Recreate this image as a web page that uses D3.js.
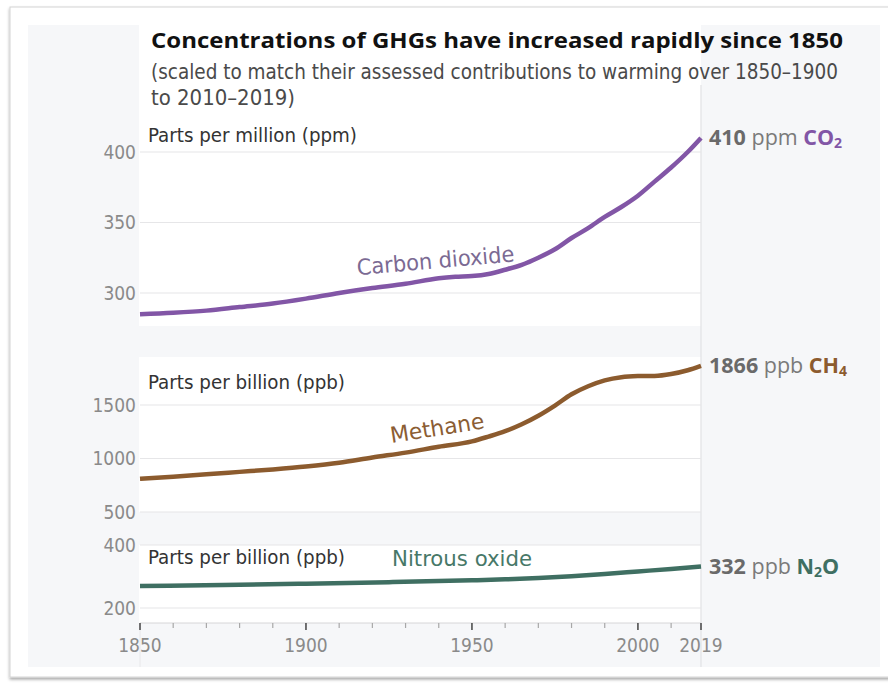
<!DOCTYPE html>
<html>
<head>
<meta charset="utf-8">
<script src="https://cdn.jsdelivr.net/npm/d3@7"></script>
<style>
  body { margin: 0; background: #fff; }
  svg { display: block; }
</style>
</head>
<body>
<div id="chart"></div>
<script>
// values
const co2Years = [1850, 1860, 1870, 1880, 1890, 1900, 1910, 1920, 1930, 1940, 1945, 1950, 1955, 1960, 1965, 1970, 1975, 1980, 1985, 1990, 1995, 2000, 2005, 2010, 2015, 2019];
const co2Values = [285, 286, 287.5, 290, 292.5, 296, 300, 303.5, 306.5, 310.5, 311.5, 312, 313.5, 316.5, 320, 325, 331, 339, 346, 354, 361, 369, 379, 389, 400, 410];

const ch4Years = [1850, 1860, 1870, 1880, 1890, 1900, 1910, 1920, 1930, 1940, 1950, 1955, 1960, 1965, 1970, 1975, 1980, 1985, 1990, 1995, 2000, 2005, 2010, 2015, 2019];
const ch4Values = [810, 830, 852, 875, 898, 925, 960, 1010, 1055, 1110, 1160, 1205, 1255, 1320, 1400, 1495, 1600, 1675, 1730, 1760, 1770, 1772, 1790, 1825, 1866];

const n2oYears = [1850, 1875, 1900, 1925, 1950, 1960, 1970, 1980, 1990, 2000, 2010, 2019];
const n2oValues = [270, 273, 277, 282, 288, 291, 295, 301, 308, 316, 324, 332];

const co2Ticks = [300, 350, 400];
const ch4Ticks = [500, 1000, 1500];
const n2oTicks = [200, 400];
const xTickYears = [1850, 1900, 1950, 2000, 2019];
const xMinorYears = [1860, 1870, 1880, 1890, 1910, 1920, 1930, 1940, 1960, 1970, 1980, 1990, 2010];

const COLORS = {
  co2: "#8256a6",
  co2Label: "#7b6a93",
  ch4: "#8c5b2e",
  ch4Label: "#8b5d33",
  n2o: "#3f6f62",
  n2oLabel: "#477868",
  panelBg: "#f6f7f9",
  grid: "#e6e6e8",
  tickText: "#8a8a8a",
  unitText: "#333",
};

const SANS = '"Open Sans", "Noto Sans", sans-serif';
const NARROW = '"Liberation Sans Narrow", "DejaVu Sans Condensed", "Open Sans", sans-serif';

const x = d3.scaleLinear().domain([1850, 2019]).range([140, 701]);

const panels = [
  {
    key: "co2", years: co2Years, values: co2Values, ticks: co2Ticks,
    y: d3.scaleLinear().domain([300, 400]).range([293, 152]),
    color: COLORS.co2, unit: "ppm", formula: ["CO", "2"],
    unitLabel: "Parts per million (ppm)", unitY: 142, unitLen: 209,
    name: "Carbon dioxide", nameColor: COLORS.co2Label,
    nameAt: [1939, 323], nameAngle: -5, nameLen: 158,
  },
  {
    key: "ch4", years: ch4Years, values: ch4Values, ticks: ch4Ticks,
    y: d3.scaleLinear().domain([500, 1500]).range([512, 405]),
    color: COLORS.ch4, unit: "ppb", formula: ["CH", "4"],
    unitLabel: "Parts per billion (ppb)", unitY: 389, unitLen: 197,
    name: "Methane", nameColor: COLORS.ch4Label,
    nameAt: [1939.5, 1285], nameAngle: -9, nameLen: 95,
  },
  {
    key: "n2o", years: n2oYears, values: n2oValues, ticks: n2oTicks,
    y: d3.scaleLinear().domain([200, 400]).range([608, 545]),
    color: COLORS.n2o, unit: "ppb", formula: ["N", "2", "O"],
    unitLabel: "Parts per billion (ppb)", unitY: 564, unitLen: 197,
    name: "Nitrous oxide", nameColor: COLORS.n2oLabel,
    nameAt: [1947, 358], nameAngle: 0, nameLen: 140,
  },
];

const svg = d3
  .select("#chart")
  .append("svg")
  .attr("width", 888)
  .attr("height", 684);

const defs = svg.append("defs");
defs
  .append("filter")
  .attr("id", "shadow")
  .attr("x", "-5%").attr("y", "-5%")
  .attr("width", "110%").attr("height", "110%")
  .append("feDropShadow")
  .attr("dx", 0).attr("dy", 2)
  .attr("stdDeviation", 1.6)
  .attr("flood-color", "#000")
  .attr("flood-opacity", 0.35);

// card + backgrounds
svg.append("rect")
  .attr("x", 10).attr("y", 7).attr("width", 880).attr("height", 670)
  .attr("fill", "#fff").attr("stroke", "#d4d4d4")
  .attr("filter", "url(#shadow)");

svg.append("rect")
  .attr("x", 28).attr("y", 25).attr("width", 852).attr("height", 642)
  .attr("fill", COLORS.panelBg);

// white plot column: title + CO2, CH4, N2O
const whiteBlocks = [[25, 326], [357, 512], [545, 623]];
svg.selectAll("rect.block")
  .data(whiteBlocks)
  .join("rect")
  .attr("class", "block")
  .attr("x", 139)
  .attr("width", 562)
  .attr("y", (d) => d[0])
  .attr("height", (d) => d[1] - d[0])
  .attr("fill", "#fff");

// vertical separator at 2019 and light extensions below the axis
svg.append("line")
  .attr("x1", x(2019)).attr("x2", x(2019))
  .attr("y1", 85).attr("y2", 667)
  .attr("stroke", "#e2e2e5").attr("stroke-width", 1.2);
svg.append("line")
  .attr("x1", x(1850)).attr("x2", x(1850))
  .attr("y1", 623).attr("y2", 667)
  .attr("stroke", "#e8e8ea");

// title
svg.append("text")
  .attr("x", 151).attr("y", 48)
  .attr("font-family", SANS).attr("font-weight", 700)
  .attr("font-size", 22).attr("fill", "#111")
  .attr("textLength", 692).attr("lengthAdjust", "spacingAndGlyphs")
  .text("Concentrations of GHGs have increased rapidly since 1850");

const subtitle = [
  ["(scaled to match their assessed contributions to warming over 1850\u20131900", 79, 687],
  ["to 2010\u20132019)", 105, 144],
];
svg.selectAll("text.sub")
  .data(subtitle)
  .join("text")
  .attr("class", "sub")
  .attr("x", 151)
  .attr("y", (d) => d[1])
  .attr("font-family", NARROW)
  .attr("font-size", 21)
  .attr("fill", "#4a4a4a")
  .attr("textLength", (d) => d[2])
  .attr("lengthAdjust", "spacingAndGlyphs")
  .text((d) => d[0]);

const line = d3.line().curve(d3.curveMonotoneX);

panels.forEach((p) => {
  const g = svg.append("g").attr("class", p.key);

  // gridlines
  g.selectAll("line.grid")
    .data(p.ticks)
    .join("line")
    .attr("class", "grid")
    .attr("x1", x(1850)).attr("x2", x(2019))
    .attr("y1", (d) => p.y(d)).attr("y2", (d) => p.y(d))
    .attr("stroke", COLORS.grid).attr("stroke-width", 1.2);

  // tick labels
  g.selectAll("text.ytick")
    .data(p.ticks)
    .join("text")
    .attr("class", "ytick")
    .attr("x", 136)
    .attr("y", (d) => p.y(d))
    .attr("dy", "0.36em")
    .attr("text-anchor", "end")
    .attr("font-family", NARROW)
    .attr("font-size", 19)
    .attr("fill", COLORS.tickText)
    .text((d) => d);

  // unit label
  g.append("text")
    .attr("x", 148).attr("y", p.unitY)
    .attr("font-family", NARROW).attr("font-size", 19)
    .attr("fill", COLORS.unitText)
    .attr("textLength", p.unitLen).attr("lengthAdjust", "spacingAndGlyphs")
    .text(p.unitLabel);

  // series line
  const pts = p.years.map((yr, i) => [x(yr), p.y(p.values[i])]);
  g.append("path")
    .attr("d", line(pts))
    .attr("fill", "none")
    .attr("stroke", p.color)
    .attr("stroke-width", 4.5)
    .attr("stroke-linejoin", "round");

  // series name on the curve
  const nx = x(p.nameAt[0]);
  const ny = p.y(p.nameAt[1]);
  g.append("text")
    .attr("transform", `translate(${nx},${ny}) rotate(${p.nameAngle})`)
    .attr("text-anchor", "middle")
    .attr("dy", "0.35em")
    .attr("font-family", NARROW).attr("font-size", 22)
    .attr("fill", p.nameColor)
    .attr("textLength", p.nameLen).attr("lengthAdjust", "spacingAndGlyphs")
    .text(p.name);

  // end value label
  const last = p.values[p.values.length - 1];
  const label = g.append("text")
    .attr("x", 709)
    .attr("y", p.y(last) + 7.5)
    .attr("font-family", SANS)
    .attr("font-size", 21.5);
  label.append("tspan").attr("font-weight", 700).attr("fill", "#6a6a6a").text(last);
  label.append("tspan").attr("fill", "#7a7a7a").text(" " + p.unit + " ");
  p.formula.forEach((part, i) => {
    const isSub = /\d/.test(part);
    const t = label.append("tspan")
      .attr("font-weight", 700)
      .attr("fill", p.color)
      .text(part);
    if (isSub) t.attr("font-size", 14).attr("dy", 3);
    else if (i > 0) t.attr("dy", -3);
  });
});

// x axis
const axisY = 623;
svg.append("line")
  .attr("x1", x(1850)).attr("x2", x(2019))
  .attr("y1", axisY).attr("y2", axisY)
  .attr("stroke", "#d6d6d8");

svg.selectAll("line.minor")
  .data(xMinorYears)
  .join("line")
  .attr("class", "minor")
  .attr("x1", (d) => x(d)).attr("x2", (d) => x(d))
  .attr("y1", axisY).attr("y2", axisY + 5)
  .attr("stroke", "#a8a8a8").attr("stroke-width", 1.2);

svg.selectAll("line.major")
  .data(xTickYears)
  .join("line")
  .attr("class", "major")
  .attr("x1", (d) => x(d)).attr("x2", (d) => x(d))
  .attr("y1", axisY).attr("y2", axisY + 7)
  .attr("stroke", "#444").attr("stroke-width", 1.5);

svg.selectAll("text.xtick")
  .data(xTickYears)
  .join("text")
  .attr("class", "xtick")
  .attr("x", (d) => x(d))
  .attr("y", 652)
  .attr("text-anchor", "middle")
  .attr("font-family", NARROW)
  .attr("font-size", 19)
  .attr("fill", COLORS.tickText)
  .text((d) => d);
</script>
</body>
</html>
